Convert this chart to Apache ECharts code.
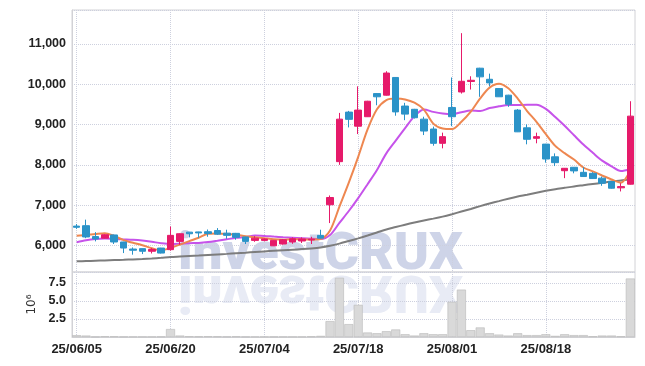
<!DOCTYPE html>
<html><head><meta charset="utf-8">
<script src="https://cdn.jsdelivr.net/npm/echarts@6/dist/echarts.min.js"></script>
<style>html,body{margin:0;padding:0;background:#fff}#c{width:645px;height:366px}</style>
</head><body><div id="c"></div>
<script>
const dates = ["25/06/05","25/06/09","25/06/10","25/06/11","25/06/12","25/06/13","25/06/16","25/06/17","25/06/18","25/06/19",
"25/06/20","25/06/23","25/06/24","25/06/25","25/06/26","25/06/27","25/06/30","25/07/01","25/07/02","25/07/03",
"25/07/04","25/07/07","25/07/08","25/07/09","25/07/10","25/07/11","25/07/14","25/07/15","25/07/16","25/07/17",
"25/07/18","25/07/21","25/07/22","25/07/23","25/07/24","25/07/25","25/07/28","25/07/29","25/07/30","25/07/31",
"25/08/01","25/08/04","25/08/05","25/08/06","25/08/07","25/08/08","25/08/11","25/08/12","25/08/13","25/08/14",
"25/08/18","25/08/19","25/08/20","25/08/21","25/08/22","25/08/25","25/08/26","25/08/27","25/08/28","25/08/29"];
const opens = [6480,6490,6220,6180,6260,6085,5910,5920,5855,5935,5895,6100,6330,6335,6340,6370,6305,6300,6210,6125,
6125,5990,6035,6085,6110,6135,6250,7010,8080,9310,8960,9195,9770,9730,10170,9460,9380,9135,8890,8535,
9425,9810,10070,10400,10125,9895,9730,9360,8920,8660,8515,8200,7855,7940,7815,7790,7670,7585,7430,7520];
const closes = [6450,6210,6160,6265,6085,5935,5880,5855,5900,5810,6250,6290,6290,6310,6295,6280,6250,6200,6100,6180,
6160,6125,6140,6165,6160,6155,6180,7190,9135,9130,9360,9580,9690,10280,9315,9260,9170,8840,8535,8700,
9195,10075,10100,10185,10035,9690,9505,8820,8635,8700,8145,8055,7915,7850,7710,7660,7545,7420,7460,9210];
const lows = [6410,6180,6100,6170,6035,5810,5770,5785,5800,5800,5870,6015,6200,6190,6215,6260,6165,6140,6035,6090,
6100,5985,6020,6040,6060,6035,6170,6555,8000,8930,8765,9190,9480,9720,9220,9110,9150,8740,8475,8410,
8960,9770,9870,9690,9950,9685,9440,8815,8510,8535,8055,7970,7670,7790,7700,7650,7480,7410,7340,7510];
const highs = [6530,6640,6330,6280,6270,6090,5950,5925,5935,5940,6470,6300,6335,6340,6395,6430,6390,6310,6215,6230,
6180,6130,6160,6200,6200,6215,6390,7240,9290,9340,9950,9590,9780,10325,10175,9540,9390,9195,8950,8800,
10170,11270,10200,10410,10265,9900,9740,9385,9005,8800,8520,8285,7920,7945,7940,7820,7710,7590,7545,9580];
const ma5 = [6240,6260,6285,6305,6234,6131,6065,6004,5931,5876,5939,6021,6108,6190,6287,6293,6285,6267,6225,6202,
6178,6153,6141,6154,6150,6149,6160,6370,6964,7558,8199,8879,9379,9608,9645,9625,9543,9373,9024,8901,
8888,9069,9321,9651,9918,10017,9903,9647,9337,9070,8761,8471,8290,8133,7935,7838,7736,7637,7559,7859];
const ma10 = [6080,6130,6160,6170,6160,6150,6140,6120,6090,6055,6035,6043,6056,6061,6082,6116,6153,6188,6208,6245,
6236,6219,6204,6190,6176,6164,6157,6256,6559,6854,7174,7520,7875,8286,8602,8912,9211,9376,9316,9273,
9257,9306,9347,9338,9410,9453,9486,9484,9494,9494,9389,9187,8969,8735,8503,8300,8104,7964,7846,7897];
const maLong = [5604,5612,5620,5628,5636,5643,5652,5662,5676,5693,5712,5724,5736,5748,5762,5776,5790,5805,5820,5836,
5851,5866,5880,5894,5908,5925,5950,5990,6045,6110,6175,6245,6320,6395,6455,6515,6570,6620,6665,6715,
6775,6840,6905,6975,7040,7100,7160,7215,7260,7310,7355,7395,7430,7465,7495,7525,7555,7585,7610,7640];
const volumes = [0.25,0.2,0.05,0.1,0.08,0.05,0.04,0.04,0.04,0.06,1.1,0.2,0.1,0.08,0.1,0.08,0.06,0.08,0.05,0.04,
0.04,0.05,0.04,0.04,0.04,0.08,0.15,2.2,8.2,1.78,4.45,0.62,0.52,0.8,1.04,0.38,0.2,0.52,0.38,0.38,
4.87,6.56,0.94,1.32,0.52,0.33,0.2,0.52,0.26,0.26,0.38,0.15,0.38,0.26,0.26,0.1,0.2,0.2,0.1,8.1];

const ohlc = opens.map((o, i) => [o, closes[i], lows[i], highs[i]]);
const UP = '#e61a6a', DOWN = '#2b93c8';
const gridLine = { show: true, interval: 9, alignWithLabel: true, lineStyle: { color: '#cdd0de', type: 'dotted', width: 1 } };
const FONT = "'Liberation Sans', Arial, sans-serif";

// watermark sizing
const WM = 'investCRUX', WMFONT = '900 52px Roboto';
const cv = document.createElement('canvas').getContext('2d');
cv.font = WMFONT;
const wmScale = 285 / cv.measureText(WM).width;

const chart = echarts.init(document.getElementById('c'), null, { renderer: 'canvas' });
chart.setOption({
  animation: false,
  backgroundColor: '#fff',
  grid: [
    { left: 72, right: 10, top: 10, height: 262, show: true, borderColor: '#d2d2d6', borderWidth: 1 },
    { left: 72, right: 10, top: 272, height: 65, show: true, borderColor: '#d2d2d6', borderWidth: 1 }
  ],
  graphic: [
    { type: 'text', x: 178, y: 256, z: -5, scaleX: wmScale,
      style: { text: WM, font: WMFONT, fill: 'rgba(165,176,214,0.55)', verticalAlign: 'middle' } },
    { type: 'text', x: 178, y: 289, z: -5, scaleX: wmScale, scaleY: -1,
      style: { text: WM, font: WMFONT, fill: 'rgba(165,176,214,0.25)', verticalAlign: 'middle' } }
  ],
  xAxis: [
    { type: 'category', gridIndex: 0, data: dates, boundaryGap: true,
      axisLine: { show: false }, axisTick: { show: false }, axisLabel: { show: false, interval: 9 },
      splitLine: gridLine },
    { type: 'category', gridIndex: 1, data: dates, boundaryGap: true,
      axisLine: { show: true, lineStyle: { color: '#d2d2d6' } }, axisTick: { show: false },
      axisLabel: { interval: 9, margin: 6, fontFamily: FONT, fontWeight: 'bold', fontSize: 13, color: '#222' },
      splitLine: gridLine }
  ],
  yAxis: [
    { type: 'value', gridIndex: 0, min: 5340, max: 11845, scale: true,
      axisLine: { show: true, lineStyle: { color: '#d2d2d6' } }, axisTick: { show: false },
      axisLabel: { margin: 6, fontFamily: FONT, fontWeight: 'bold', fontSize: 12.5, color: '#222',
        formatter: v => (v % 1000 === 0 ? v.toLocaleString('en-US') : '') },
      splitLine: { show: true, lineStyle: { color: '#cdd0de', type: 'dotted', width: 1 } } },
    { type: 'value', gridIndex: 1, min: 0, max: 9, interval: 2.5,
      name: '10⁶', nameLocation: 'middle', nameRotate: 90, nameGap: 33,
      nameTextStyle: { fontFamily: 'DejaVu Sans', fontSize: 12, color: '#333' },
      axisLine: { show: true, lineStyle: { color: '#d2d2d6' } }, axisTick: { show: false },
      axisLabel: { margin: 6, fontFamily: FONT, fontWeight: 'bold', fontSize: 12.5, color: '#222',
        formatter: v => (v > 0 && v < 9 ? v.toFixed(1) : '') },
      splitLine: { show: true, lineStyle: { color: '#cdd0de', type: 'dotted', width: 1 } } }
  ],
  series: [
    { type: 'line', xAxisIndex: 0, yAxisIndex: 0, data: maLong, symbol: 'none', smooth: 0.3,
      lineStyle: { color: '#7d7d7d', width: 2 }, z: 3 },
    { type: 'line', xAxisIndex: 0, yAxisIndex: 0, data: ma10, symbol: 'none', smooth: 0.3,
      lineStyle: { color: '#c653ea', width: 2 }, z: 3 },
    { type: 'line', xAxisIndex: 0, yAxisIndex: 0, data: ma5, symbol: 'none', smooth: 0.3,
      lineStyle: { color: '#ee8750', width: 2 }, z: 4 },
    { type: 'candlestick', xAxisIndex: 0, yAxisIndex: 0, data: ohlc, barWidth: 7, z: 5,
      itemStyle: { color: UP, color0: DOWN, borderColor: UP, borderColor0: DOWN, borderWidth: 1 } },
    { type: 'bar', xAxisIndex: 1, yAxisIndex: 1, data: volumes, barCategoryGap: '4%',
      itemStyle: { color: '#d9d9d9', borderColor: '#b9b9b9', borderWidth: 0.6 } }
  ]
});
</script></body></html>
